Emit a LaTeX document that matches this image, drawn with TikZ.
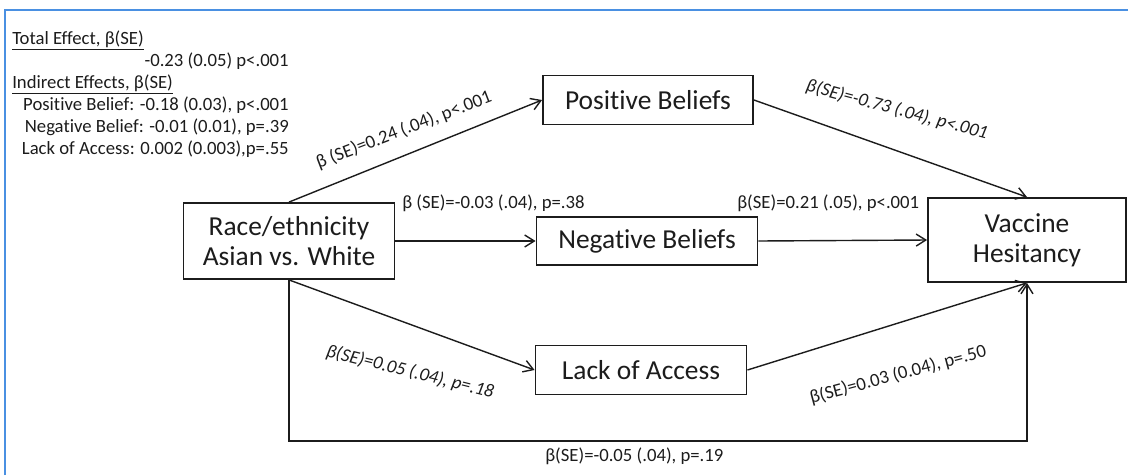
\documentclass[tikz,border=0pt]{standalone}
\usepackage{fontspec}
\setmainfont{Carlito}[Ligatures=NoCommon]
\usepackage{tikz}
\usetikzlibrary{arrows.meta, positioning}

\definecolor{frameblue}{RGB}{74,144,226}
\definecolor{inkgray}{RGB}{28,28,28}

\begin{document}
\begin{tikzpicture}[
    x=0.025cm, y=-0.025cm,
    every node/.style={font=\fontsize{13.3}{16}\selectfont, text=inkgray},
    block/.style={
        rectangle,
        draw=inkgray,
        fill=white,
        text centered,
        align=center,
        inner sep=0pt,
        line width=1.3pt,
        font=\fontsize{19.5}{21.3}\selectfont
    },
    arrow/.style={line width=1pt, draw=inkgray, ->, >={Straight Barb[length=2.4mm,width=3mm]}},
    coef/.style={inner sep=0pt},
    effect/.style={inner sep=0pt}
]
\useasboundingbox (0,0) rectangle (1128,475);
\draw [frameblue, line width=1.4pt] (5,475) -- (5,10) -- (1128,10);

% summary of effects
\node (tot) [effect, anchor=base west] at (12,44) {\underline{Total Effect, β(SE)}};
\node (totv) [effect, anchor=base east] at (289,66) {-0.23 (0.05) p<.001};
\node (ind) [effect, anchor=base west] at (12,88) {\underline{Indirect Effects, β(SE)}};
\node (indpos) [effect, anchor=base east] at (289,110) {Positive Belief: -0.18 (0.03), p<.001};
\node (indneg) [effect, anchor=base east] at (289,132) {Negative Belief: -0.01 (0.01), p=.39};
\node (indlack) [effect, anchor=base east] at (289,154) {Lack of Access: 0.002 (0.003),p=.55};

% variables
\node (race) [block, minimum width=5.275cm, minimum height=1.9cm] at (289,241) {Race/ethnicity\\Asian vs. White};
\node (posb) [block, minimum width=5.25cm, minimum height=1.225cm] at (648,100) {Positive Beliefs};
\node (negb) [block, minimum width=5.525cm, minimum height=1.2cm] at (647,241) {Negative Beliefs};
\node (lack) [block, minimum width=5.275cm, minimum height=1.225cm] at (641,370) {Lack of Access};
\node (vh) [block, minimum width=4.95cm, minimum height=2.1cm] at (1027,240) {Vaccine\\Hesitancy};
\coordinate (bot) at (1027,441);

\draw [arrow] (race.north) -- (posb.west);
\draw [arrow] (race.east) -- (negb.west);
\draw [arrow] (race.south) -- (lack.west);
\draw [arrow] (posb.east) -- (vh.north);
\draw [arrow] (negb.east) -- (vh.west);
\draw [arrow] (lack.east) -- (vh.south);
\draw [arrow] (race.south) |- (bot) -- (vh.south);

% path coefficients
\node (cposin) [coef, rotate=21] at (404,130) {β (SE)=0.24 (.04), p<.001};
\node (cnegin) [coef, anchor=west] at (402,203) {β (SE)=-0.03 (.04), p=.38};
\node (clackin) [coef, rotate=-14, font=\fontsize{13.3}{16}\selectfont\itshape] at (410,372) {β(SE)=0.05 (.04), p=.18};
\node (cposout) [coef, rotate=-15, font=\fontsize{13.3}{16}\selectfont\itshape] at (897,110) {β(SE)=-0.73 (.04), p<.001};
\node (cnegout) [coef, anchor=west] at (737,203) {β(SE)=0.21 (.05), p<.001};
\node (clackout) [coef, rotate=15] at (898,375) {β(SE)=0.03 (0.04), p=.50};
\node (cdirect) [coef, anchor=west] at (545,456) {β(SE)=-0.05 (.04), p=.19};

\end{tikzpicture}
\end{document}
